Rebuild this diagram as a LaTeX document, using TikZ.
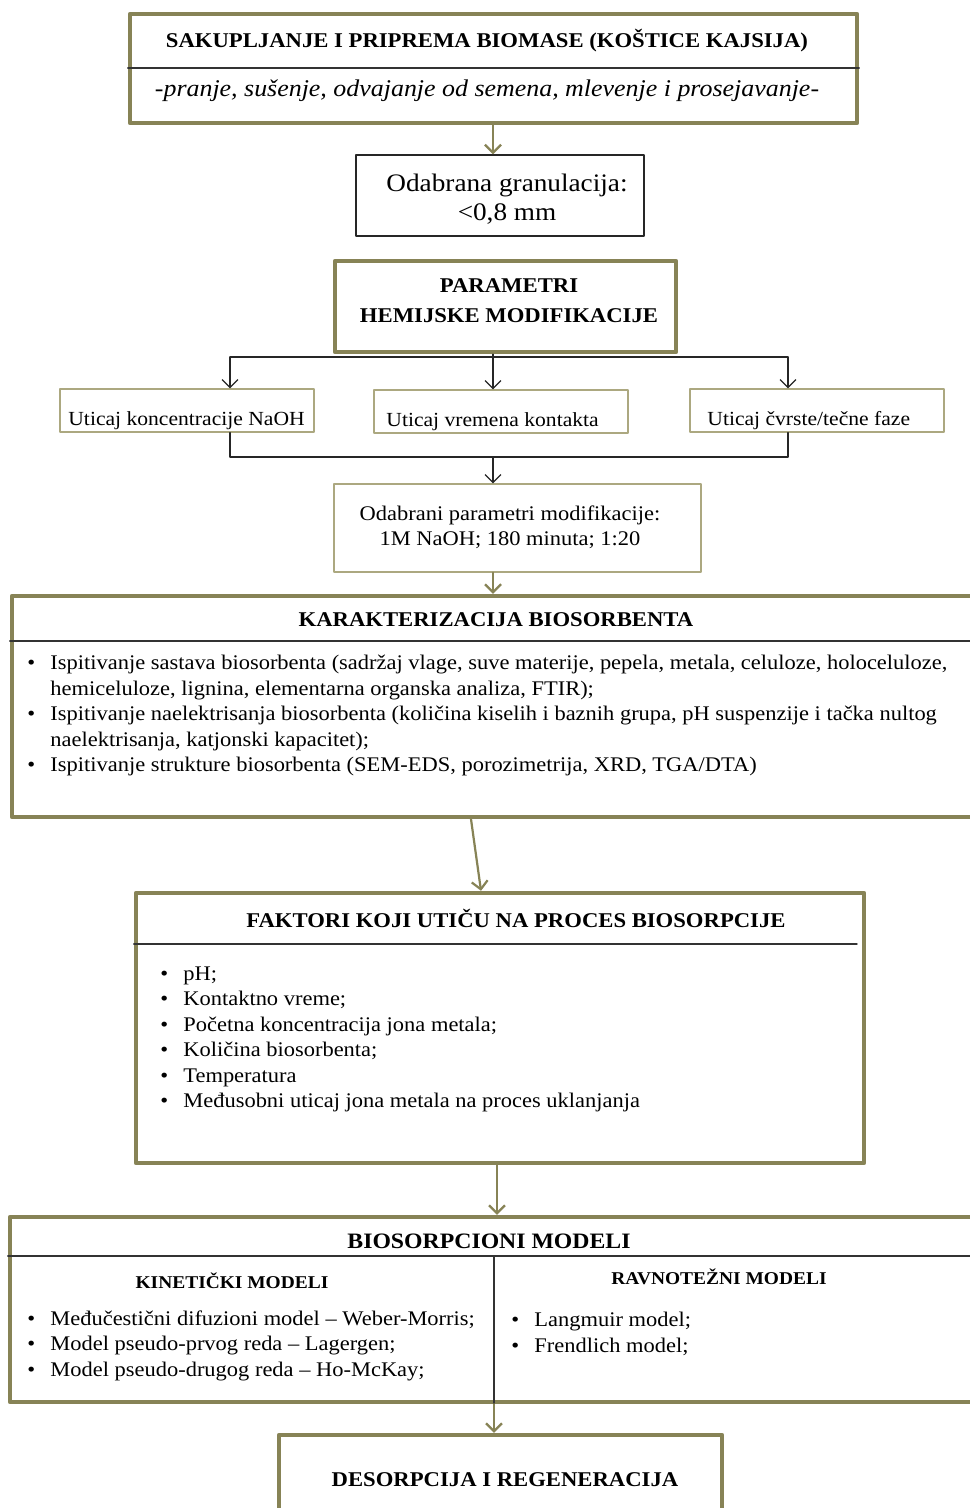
\documentclass[tikz,border=0pt]{standalone}
\usepackage{fontspec}
\setmainfont[FakeStretch=1.08]{Liberation Serif}
\usetikzlibrary{arrows.meta,fit}
\definecolor{olivebox}{RGB}{135,131,86}
\definecolor{olivethin}{RGB}{172,168,128}
\newcommand{\itm}{\makebox[11.5pt][l]{\textbullet}}
\newcommand{\ind}{\hspace*{11.5pt}}

\begin{document}
\begin{tikzpicture}[line join=round, line cap=round, x=0.5pt, y=-0.5pt,
  >={Straight Barb[length=4pt,width=8pt]}]
\tikzset{
  bigbox/.style={draw=olivebox, line width=2.2pt, inner sep=0pt},
  blackbox/.style={draw=black!85, line width=0.7pt, inner sep=0pt},
  litebox/.style={draw=olivethin, line width=0.6pt, inner sep=0pt},
  ttl/.style={font=\fontsize{10.5}{15}\selectfont\bfseries, inner sep=0pt, align=center},
  subttl/.style={font=\fontsize{9}{11}\selectfont\bfseries, inner sep=0pt},
  txt/.style={font=\fontsize{10.4}{12.75}\selectfont, inner sep=0pt, align=left, anchor=north west},
  olarr/.style={->, draw=olivebox, line width=1.1pt},
  blarr/.style={->, draw=black!85, line width=0.6pt},
  sepline/.style={draw=black!80, line width=0.7pt}
}
\useasboundingbox (0,0) rectangle (969,1508);
\fill[white] (0,0) rectangle (969,1508);

\node[bigbox, fit={(130,14) (857,123)}] (prep) {};
\draw[sepline] (prep.west |- 0,68) -- (prep.east |- 0,68);
\node[ttl] (prept) at (487,41) {SAKUPLJANJE I PRIPREMA BIOMASE (KOŠTICE KAJSIJA)};
\node[font=\fontsize{12}{14}\selectfont\itshape, inner sep=0pt] (prepi) at (487,91)
  {-pranje, sušenje, odvajanje od semena, mlevenje i prosejavanje-};

\node[blackbox, fit={(356,155) (644,236)}] (gran) {};
\node[font=\fontsize{12.6}{14.5}\selectfont, align=center, inner sep=0pt] (grant) at (507,199)
  {Odabrana granulacija:\\<0,8 mm};
\draw[olarr] (493,0 |- prep.south) -- (493,0 |- gran.north);

\node[bigbox, fit={(335,261) (676,352)}] (param) {};
\node[ttl] (paramt) at (509,301) {PARAMETRI\\HEMIJSKE MODIFIKACIJE};

\coordinate (bl) at (230,357);
\coordinate (bc) at (493,357);
\coordinate (br) at (788,357);
\draw[black!85, line width=0.6pt] (bc |- param.south) -- (bc);
\draw[black!85, line width=0.6pt] (bl) -- (br);

\foreach \n/\c/\tx/\t/\yy in {u1/187/68/{Uticaj koncentracije NaOH}/389,
                              u2/501/386/{Uticaj vremena kontakta}/390,
                              u3/817/707/{Uticaj čvrste/tečne faze}/389}{
  \node[litebox, fit={(\c-127,\yy) (\c+127,\yy+43)}] (\n) {};
  \node[font=\fontsize{10}{11}\selectfont, inner sep=0pt, anchor=west] (\n t) at (\tx,\yy+32) {\t};
}
\draw[blarr] (bl) -- (bl |- u1.north);
\draw[blarr] (bc) -- (bc |- u2.north);
\draw[blarr] (br) -- (br |- u3.north);

\coordinate (ml) at (230,457);
\coordinate (mc) at (493,457);
\coordinate (mr) at (788,457);
\draw[black!85, line width=0.6pt] (ml |- u1.south) -- (ml) -- (mr) -- (mr |- u3.south);

\node[litebox, fit={(334,484) (701,572)}] (odab) {};
\node[font=\fontsize{10.4}{12.5}\selectfont, align=center, inner sep=0pt] (odabt) at (510,527)
  {Odabrani parametri modifikacije:\\1M NaOH; 180 minuta; 1:20};
\draw[blarr] (mc) -- (mc |- odab.north);

\node[bigbox, fit={(12,596) (985,817)}] (karak) {};
\draw[sepline] (karak.west |- 0,641) -- (karak.east |- 0,641);
\node[ttl] (karakt) at (496,620) {KARAKTERIZACIJA BIOSORBENTA};
\node[txt] (karakl) at (27,655) {%
\itm Ispitivanje sastava biosorbenta (sadržaj vlage, suve materije, pepela, metala, celuloze, holoceluloze,\\
\ind hemiceluloze, lignina, elementarna organska analiza, FTIR);\\
\itm Ispitivanje naelektrisanja biosorbenta (količina kiselih i baznih grupa, pH suspenzije i tačka nultog\\
\ind naelektrisanja, katjonski kapacitet);\\
\itm Ispitivanje strukture biosorbenta (SEM-EDS, porozimetrija, XRD, TGA/DTA)};
\draw[olarr] (493,0 |- odab.south) -- (493,0 |- karak.north);

\node[bigbox, fit={(136,893) (864,1163)}] (fakt) {};
\draw[sepline] (fakt.west |- 0,944) -- (857,944);
\node[ttl] (faktt) at (516,918) {FAKTORI KOJI UTIČU NA PROCES BIOSORPCIJE};
\node[txt] (faktl) at (160,966) {%
\itm pH;\\
\itm Kontaktno vreme;\\
\itm Početna koncentracija jona metala;\\
\itm Količina biosorbenta;\\
\itm Temperatura\\
\itm Međusobni uticaj jona metala na proces uklanjanja};
\draw[olarr] (471,0 |- karak.south) -- (481,0 |- fakt.north);

\node[bigbox, fit={(10,1217) (985,1402)}] (bios) {};
\draw[sepline] (bios.west |- 0,1256) -- (bios.east |- 0,1256);
\draw[sepline] (494,1256) -- (494,0 |- bios.south);
\node[ttl, font=\fontsize{11}{15}\selectfont\bfseries] (biost) at (489,1241) {BIOSORPCIONI MODELI};
\node[subttl] (kint) at (232,1281) {KINETIČKI MODELI};
\node[subttl] (ravt) at (719,1277) {RAVNOTEŽNI MODELI};
\node[txt] (kinl) at (27,1310) {%
\itm Međučestični difuzioni model – Weber-Morris;\\
\itm Model pseudo-prvog reda – Lagergen;\\
\itm Model pseudo-drugog reda – Ho-McKay;};
\node[txt] (ravl) at (511,1312) {%
\itm Langmuir model;\\
\itm Frendlich model;};
\draw[olarr] (497,0 |- fakt.south) -- (497,0 |- bios.north);

\node[bigbox, fit={(279,1435) (722,1525)}] (desor) {};
\node[ttl] (desort) at (505,1480) {DESORPCIJA I REGENERACIJA};
\draw[olarr] (494,0 |- bios.south) -- (494,0 |- desor.north);
\end{tikzpicture}
\end{document}
